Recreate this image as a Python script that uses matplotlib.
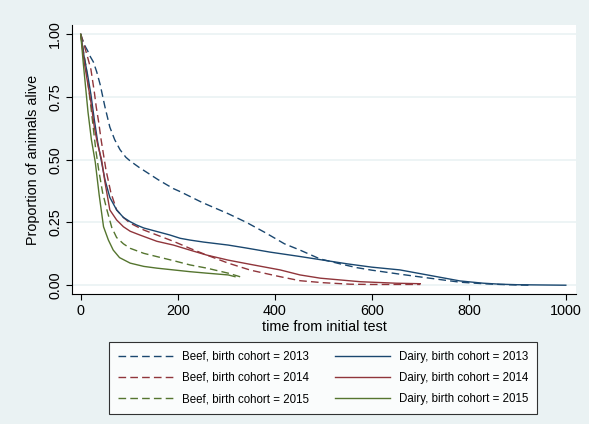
import matplotlib
matplotlib.use("Agg")
import matplotlib.pyplot as plt

plt.rcParams["font.family"] = ["Liberation Sans", "DejaVu Sans"]

# ---------------------------------------------------------------------------
# Survival curves (time, proportion alive)
# ---------------------------------------------------------------------------
BEEF_2013_T = [0, 7, 14, 20, 26, 33, 40, 50, 60, 70, 81, 93, 102, 120, 136, 160, 191,
               205, 250, 304, 342, 380, 420, 452, 493, 535, 569, 600, 658, 700, 782,
               830, 865, 900, 927]
BEEF_2013_S = [1.0, 0.96, 0.935, 0.91, 0.89, 0.85, 0.80, 0.71, 0.63, 0.58, 0.54, 0.51,
               0.495, 0.47, 0.45, 0.42, 0.385, 0.373, 0.33, 0.285, 0.25, 0.21, 0.165,
               0.14, 0.105, 0.085, 0.07, 0.06, 0.044, 0.033, 0.012, 0.006, 0.003,
               0.001, 0.0]

DAIRY_2013_T = [0, 7, 14, 21, 28, 35, 42, 50, 60, 74, 88, 102, 115, 130, 157, 184, 205,
                225, 253, 304, 342, 390, 450, 500, 550, 600, 658, 720, 782, 830, 865,
                900, 950, 1000]
DAIRY_2013_S = [1.0, 0.91, 0.84, 0.76, 0.66, 0.57, 0.50, 0.42, 0.35, 0.30, 0.27, 0.253,
                0.24, 0.228, 0.214, 0.20, 0.187, 0.18, 0.172, 0.16, 0.148, 0.132, 0.115,
                0.10, 0.085, 0.072, 0.061, 0.039, 0.017, 0.008, 0.004, 0.002, 0.001,
                0.0]

BEEF_2014_T = [0, 7, 14, 21, 28, 32, 37, 42, 52, 62, 74, 88, 102, 130, 157, 191, 225,
               260, 304, 350, 411, 452, 500, 556, 600, 700]
BEEF_2014_S = [1.0, 0.957, 0.91, 0.86, 0.77, 0.71, 0.65, 0.58, 0.46, 0.37, 0.30, 0.27,
               0.247, 0.22, 0.20, 0.175, 0.147, 0.12, 0.088, 0.06, 0.034, 0.018, 0.01,
               0.004, 0.003, 0.003]

DAIRY_2014_T = [0, 7, 14, 21, 28, 35, 43, 50, 60, 74, 88, 102, 122, 157, 191, 225, 260,
                304, 350, 411, 452, 494, 576, 650, 700]
DAIRY_2014_S = [1.0, 0.89, 0.81, 0.73, 0.63, 0.56, 0.50, 0.41, 0.30, 0.26, 0.233, 0.215,
                0.20, 0.175, 0.16, 0.14, 0.12, 0.10, 0.083, 0.061, 0.041, 0.028, 0.014,
                0.008, 0.006]

BEEF_2015_T = [0, 5, 11, 21, 31, 37, 45, 54, 64, 74, 88, 102, 130, 157, 191, 225, 260,
               304, 335]
BEEF_2015_S = [1.0, 0.94, 0.87, 0.71, 0.54, 0.46, 0.37, 0.30, 0.23, 0.19, 0.165, 0.147,
               0.127, 0.114, 0.098, 0.081, 0.068, 0.048, 0.03]

DAIRY_2015_T = [0, 5, 10, 15, 22, 30, 38, 47, 57, 67, 80, 102, 130, 157, 191, 225, 260,
                304, 318]
DAIRY_2015_S = [1.0, 0.89, 0.79, 0.69, 0.58, 0.49, 0.36, 0.233, 0.18, 0.14, 0.11, 0.088,
                0.075, 0.068, 0.061, 0.054, 0.048, 0.041, 0.034]

LABELS = ["Beef, birth cohort = 2013", "Beef, birth cohort = 2014",
          "Beef, birth cohort = 2015", "Dairy, birth cohort = 2013",
          "Dairy, birth cohort = 2014", "Dairy, birth cohort = 2015"]

X_TICKS = [0, 200, 400, 600, 800, 1000]
Y_TICKS = [0.0, 0.25, 0.5, 0.75, 1.0]

NAVY = "#1A476F"
MAROON = "#90353B"
GREEN = "#55752F"
BG = "#EAF2F3"


def main() -> None:
    fig = plt.figure(figsize=(5.89, 4.24), dpi=100, facecolor=BG)
    ax = fig.add_axes([72 / 589, 1 - 294 / 424, 504 / 589, 269 / 424])
    ax.set_facecolor("white")

    dash = (5.5, 3)
    series = [
        (BEEF_2013_T, BEEF_2013_S, NAVY, True),
        (BEEF_2014_T, BEEF_2014_S, MAROON, True),
        (BEEF_2015_T, BEEF_2015_S, GREEN, True),
        (DAIRY_2013_T, DAIRY_2013_S, NAVY, False),
        (DAIRY_2014_T, DAIRY_2014_S, MAROON, False),
        (DAIRY_2015_T, DAIRY_2015_S, GREEN, False),
    ]
    handles = []
    for (t, s, col, dashed), lab in zip(series, LABELS):
        if dashed:
            (h,) = ax.plot(t, s, color=col, lw=1.0, dashes=dash, label=lab)
        else:
            (h,) = ax.plot(t, s, color=col, lw=1.0, label=lab)
        handles.append(h)

    ax.set_xlim(-18, 1021)
    ax.set_ylim(-0.035, 1.037)
    ax.set_xticks(X_TICKS)
    ax.set_yticks(Y_TICKS)
    ax.set_yticklabels([f"{v:.2f}" for v in Y_TICKS], rotation=90, va="center")
    ax.tick_params(axis="both", direction="out", length=4, width=0.8,
                   labelsize=10.4, colors="black")
    ax.tick_params(axis="y", pad=3)

    ax.yaxis.grid(True, color=BG, lw=1.2)
    ax.set_axisbelow(True)
    for side in ("top", "right"):
        ax.spines[side].set_visible(False)
    for side in ("left", "bottom"):
        ax.spines[side].set_linewidth(0.8)

    ax.set_xlabel("time from initial test", fontsize=10.4, labelpad=1)
    ax.set_ylabel("Proportion of animals alive", fontsize=10.4, labelpad=6)

    leg = fig.legend(handles=handles, loc="upper left",
                     bbox_to_anchor=(109 / 589, 1 - 342 / 424),
                     ncol=2, fontsize=8.3, frameon=True, fancybox=False,
                     handlelength=4.8, handletextpad=0.8, columnspacing=2.2,
                     labelspacing=0.8, borderpad=0.75, borderaxespad=0)
    leg.get_frame().set_edgecolor("black")
    leg.get_frame().set_linewidth(0.8)
    leg.get_frame().set_facecolor("white")

    fig.savefig("out.png", dpi=100, facecolor=BG)


if __name__ == "__main__":
    main()
